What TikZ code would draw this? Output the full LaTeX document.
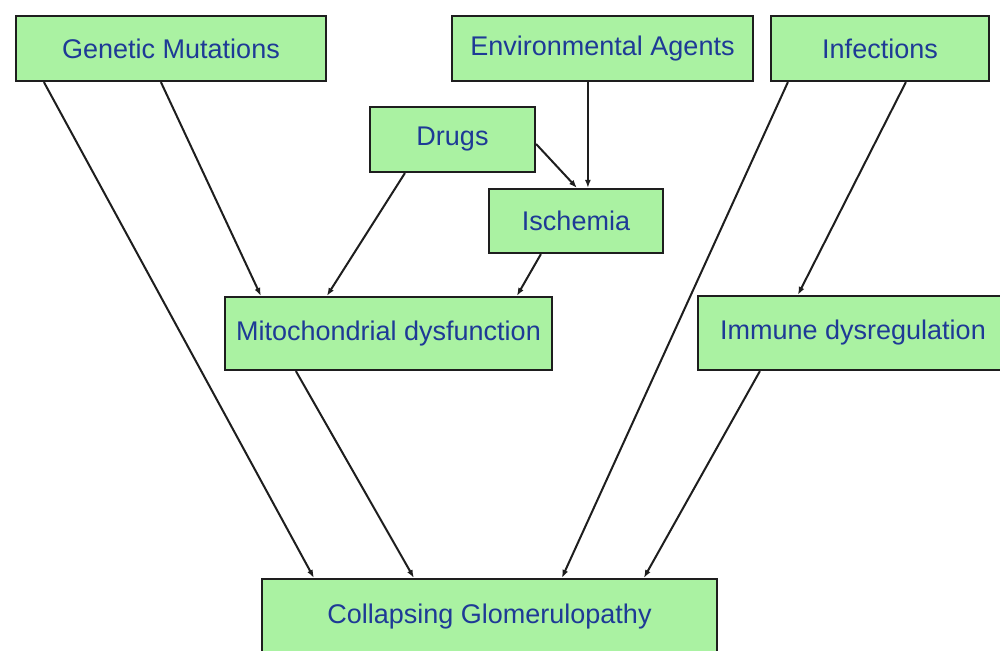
\documentclass[tikz,border=0pt]{standalone}
\usepackage{fontspec}
\setmainfont{Liberation Sans}
\usetikzlibrary{arrows.meta}
\definecolor{boxfill}{RGB}{170,242,162}
\definecolor{boxtext}{RGB}{30,58,150}
\definecolor{edge}{RGB}{30,30,30}
\tikzset{
  box/.style={draw=edge, line width=2.2pt, fill=boxfill, rectangle, inner sep=0pt,
    text=boxtext, font=\fontsize{27}{30}\selectfont},
  conn/.style={draw=edge, line width=2pt, -{Latex[length=8pt,width=6pt]}}
}
\begin{document}
\begin{tikzpicture}[x=1pt,y=-1pt]
\clip (0,0) rectangle (1000,650);
\fill[white] (0,0) rectangle (1000,650);

\node[box, minimum width=310pt, minimum height=65pt] (gm) at (171,48.5) {Genetic Mutations};
\node[box, minimum width=301pt, minimum height=65pt] (env) at (602.5,48.5) {Environmental Agents};
\node[box, minimum width=218pt, minimum height=65pt] (inf) at (880,48.5) {Infections};
\node[box, minimum width=165pt, minimum height=65pt] (drugs) at (452.5,139.5) {Drugs};
\node[box, minimum width=174pt, minimum height=64pt] (isch) at (576,221) {Ischemia};
\node[box, minimum width=327pt, minimum height=73pt] (mito) at (388.5,333.5) {Mitochondrial dysfunction};
\node[box, minimum width=310pt, minimum height=74pt] (imm) at (853,333) {Immune dysregulation};
\node[box, minimum width=455pt, minimum height=76pt] (cg) at (489.5,617) {Collapsing Glomerulopathy};

\draw[conn] ([xshift=29pt]gm.south west) -- ([xshift=53pt]cg.north west);
\draw[conn] ([xshift=146pt]gm.south west) -- ([xshift=37pt]mito.north west);
\draw[conn] ([xshift=36pt]drugs.south west) -- ([xshift=103pt]mito.north west);
\draw[conn] ([yshift=-4.5pt]drugs.east) -- ([xshift=89pt]isch.north west);
\draw[conn] ([xshift=137pt]env.south west) -- ([xshift=100pt]isch.north west);
\draw[conn] ([xshift=53pt]isch.south west) -- ([xshift=293pt]mito.north west);
\draw[conn] ([xshift=72pt]mito.south west) -- ([xshift=153pt]cg.north west);
\draw[conn] ([xshift=18pt]inf.south west) -- ([xshift=301pt]cg.north west);
\draw[conn] ([xshift=136pt]inf.south west) -- ([xshift=101pt]imm.north west);
\draw[conn] ([xshift=63pt]imm.south west) -- ([xshift=383pt]cg.north west);
\end{tikzpicture}
\end{document}
